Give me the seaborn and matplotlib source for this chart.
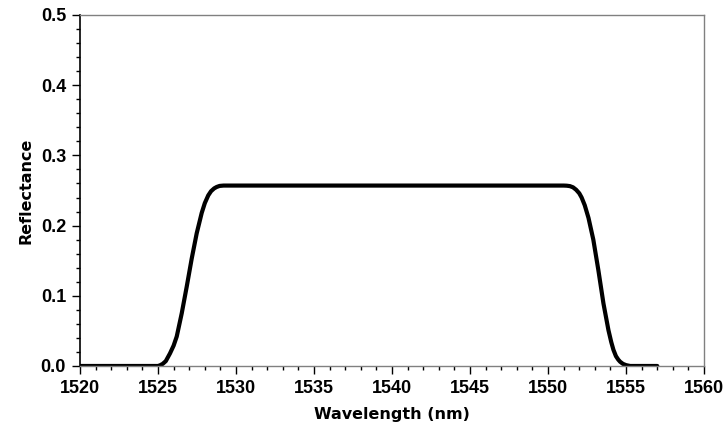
import matplotlib
matplotlib.use("Agg")
import matplotlib.pyplot as plt
import seaborn as sns
import numpy as np
import pandas as pd
from matplotlib.ticker import MultipleLocator, FormatStrFormatter

wavelength = [1520.0, 1522.0, 1524.0, 1525.0, 1525.13, 1525.3, 1525.5, 1525.77, 1526.0,
              1526.2, 1526.52, 1526.84, 1527.16, 1527.48, 1527.8, 1528.0, 1528.22,
              1528.4, 1528.6, 1528.76, 1528.95, 1529.2, 1530.0,
              1535.0, 1540.0, 1545.0, 1550.0, 1551.0, 1551.2, 1551.4, 1551.6, 1551.8,
              1552.0, 1552.15, 1552.35, 1552.59, 1552.9, 1553.22, 1553.55, 1553.87,
              1554.05, 1554.19, 1554.35, 1554.5, 1554.62, 1554.8, 1555.0, 1555.26,
              1556.0, 1557.0]
reflectance = [0.0, 0.0, 0.0, 0.0, 0.001, 0.003, 0.007, 0.018, 0.029,
               0.042, 0.075, 0.113, 0.153, 0.189, 0.218, 0.232, 0.243,
               0.249, 0.253, 0.255, 0.2565, 0.257, 0.257,
               0.257, 0.257, 0.257, 0.257, 0.257, 0.2568, 0.2562, 0.2545, 0.251,
               0.246, 0.240, 0.229, 0.211, 0.180, 0.137, 0.089, 0.051,
               0.034, 0.023, 0.014, 0.009, 0.006, 0.003, 0.0012, 0.0,
               0.0, 0.0]

df = pd.DataFrame({"wavelength": wavelength, "reflectance": reflectance})

sns.set_style("ticks")
plt.rcParams['font.family'] = ['Liberation Sans', 'DejaVu Sans']
plt.rcParams['font.weight'] = 'bold'
plt.rcParams['text.color'] = 'black'
plt.rcParams['axes.labelcolor'] = 'black'
plt.rcParams['xtick.color'] = 'black'
plt.rcParams['ytick.color'] = 'black'

fig = plt.figure(figsize=(7.24, 4.28), dpi=100)
ax = fig.add_axes([0.1105, 0.1449, 0.862, 0.8201])

sns.lineplot(data=df, x="wavelength", y="reflectance", color="black",
             linewidth=3.0, ax=ax)
ax.lines[0].set_solid_joinstyle('round')

ax.set_xlim(1520, 1560)
ax.set_ylim(0, 0.5)
ax.xaxis.set_major_locator(MultipleLocator(5))
ax.xaxis.set_minor_locator(MultipleLocator(1))
ax.yaxis.set_major_locator(MultipleLocator(0.1))
ax.yaxis.set_minor_locator(MultipleLocator(0.02))
ax.yaxis.set_major_formatter(FormatStrFormatter('%.1f'))

ax.tick_params(which='major', length=6, width=1, direction='out', pad=4,
               labelsize=13, labelcolor='black')
ax.tick_params(which='minor', length=3, width=1, direction='out')

ax.set_xlabel('Wavelength (nm)', fontsize=11.5, fontweight='bold',
              fontfamily='DejaVu Sans', labelpad=7)
ax.set_ylabel('Reflectance', fontsize=11.5, fontweight='bold',
              fontfamily='DejaVu Sans', labelpad=5)

ax.spines['left'].set_color('black')
ax.spines['left'].set_linewidth(1.2)
for s in ['top', 'right', 'bottom']:
    ax.spines[s].set_visible(True)
    ax.spines[s].set_color('#808080')
    ax.spines[s].set_linewidth(1.0)

ax.grid(False)

fig.savefig("out.png", dpi=100)
